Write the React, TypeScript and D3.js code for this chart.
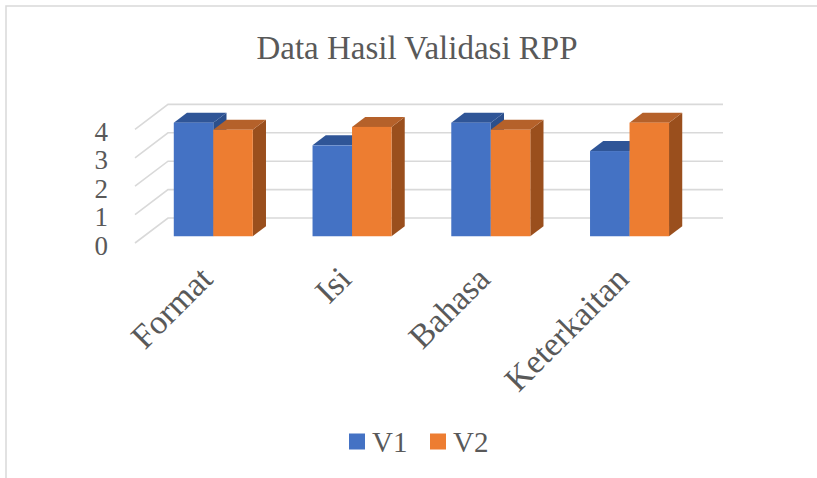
import React, { useEffect, useRef } from 'react';
import * as d3 from 'd3';

const categories = ['Format', 'Isi', 'Bahasa', 'Keterkaitan'];
const seriesNames = ['V1', 'V2'];
const v1Values = [4, 3.2, 4, 3];
const v2Values = [3.75, 3.85, 3.75, 4];
const yTicks = [0, 1, 2, 3, 4];

const App = () => {
    const svgRef = useRef<SVGSVGElement>(null);

    useEffect(() => {
        const width = 817;
        const height = 478;
        const font = '"Liberation Serif", "Times New Roman", serif';
        const textColor = '#595959';
        const gridColor = '#d9d9d9';

        // oblique "3D" projection: depth vector for the whole floor
        const depth = { dx: 33, dy: -25 };
        const barFront = 0.27;
        const barBack = 0.67;

        const colors = {
            V1: { front: '#4472c4', top: '#2f5597', side: '#2b4f8c' },
            V2: { front: '#ed7d31', top: '#b5612a', side: '#9a4f1d' }
        };

        const svg = d3.select(svgRef.current);
        svg.selectAll('*').remove();
        svg.attr('width', width).attr('height', height);

        // chart frame
        svg.append('rect')
            .attr('x', 6)
            .attr('y', 6)
            .attr('width', 1000)
            .attr('height', 800)
            .attr('fill', '#fff')
            .attr('stroke', gridColor)
            .attr('stroke-width', 1.5);

        // title
        svg.append('text')
            .attr('x', 417)
            .attr('y', 59)
            .attr('text-anchor', 'middle')
            .style('font-family', font)
            .style('font-size', '33px')
            .style('fill', textColor)
            .text('Data Hasil Validasi RPP');

        const xScale = d3.scaleBand()
            .domain(categories)
            .range([135, 690]);

        const yScale = d3.scaleLinear()
            .domain([0, 4])
            .range([243, 129.4]);

        const inner = d3.scaleBand()
            .domain(seriesNames)
            .range([0, 79]);

        // gridlines: side wall diagonal + back wall horizontal
        const grid = svg.append('g');
        yTicks.forEach(t => {
            const yf = yScale(t);
            const xf = xScale.range()[0];
            const xEnd = xScale.range()[1] + depth.dx;
            grid.append('polyline')
                .attr('points', `${xf},${yf} ${xf + depth.dx},${yf + depth.dy} ${xEnd},${yf + depth.dy}`)
                .attr('fill', 'none')
                .attr('stroke', gridColor)
                .attr('stroke-width', 1.6);
        });

        // y axis labels
        svg.append('g')
            .selectAll('text')
            .data(yTicks)
            .join('text')
            .attr('x', 108)
            .attr('y', d => yScale(d) + 11.5)
            .attr('text-anchor', 'end')
            .style('font-family', font)
            .style('font-size', '27px')
            .style('fill', textColor)
            .text(d => d);

        // bars
        const bars = svg.append('g');
        const ox = depth.dx * barFront;
        const oy = depth.dy * barFront;
        const bdx = depth.dx * (barBack - barFront);
        const bdy = depth.dy * (barBack - barFront);
        const groupOffset = (xScale.bandwidth() - 79) / 2;

        categories.forEach((cat, i) => {
            [v1Values[i], v2Values[i]].forEach((value, s) => {
                const name = seriesNames[s];
                const c = colors[name];
                const x0 = xScale(cat) + groupOffset + inner(name) + ox;
                const x1 = x0 + inner.bandwidth();
                const y0 = yScale(0) + oy;
                const y1 = yScale(value) + oy;

                // side face
                bars.append('polygon')
                    .attr('points', `${x1},${y0} ${x1 + bdx},${y0 + bdy} ${x1 + bdx},${y1 + bdy} ${x1},${y1}`)
                    .attr('fill', c.side);
                // top face
                bars.append('polygon')
                    .attr('points', `${x0},${y1} ${x1},${y1} ${x1 + bdx},${y1 + bdy} ${x0 + bdx},${y1 + bdy}`)
                    .attr('fill', c.top);
                // front face
                bars.append('rect')
                    .attr('x', x0)
                    .attr('y', y1)
                    .attr('width', x1 - x0)
                    .attr('height', y0 - y1)
                    .attr('fill', c.front);
            });
        });

        // category labels, rotated
        svg.append('g')
            .selectAll('text')
            .data(categories)
            .join('text')
            .attr('transform', d => `translate(${xScale(d) + xScale.bandwidth() / 2 + 10}, 281) rotate(-45)`)
            .attr('text-anchor', 'end')
            .style('font-family', font)
            .style('font-size', '34px')
            .style('fill', textColor)
            .text(d => d);

        // legend
        const legend = svg.append('g');
        const legendX = d3.scaleOrdinal<string, number>()
            .domain(seriesNames)
            .range([349, 430]);
        seriesNames.forEach(name => {
            legend.append('rect')
                .attr('x', legendX(name))
                .attr('y', 433.5)
                .attr('width', 16)
                .attr('height', 16)
                .attr('fill', colors[name].front);
            legend.append('text')
                .attr('x', legendX(name) + 23)
                .attr('y', 451.5)
                .style('font-family', font)
                .style('font-size', '29px')
                .style('fill', textColor)
                .text(name);
        });
    }, []);

    return (
        <div style={{ position: 'absolute', left: 0, top: 0, width: 817, height: 478, overflow: 'hidden' }}>
            <svg ref={svgRef} style={{ display: 'block' }}></svg>
        </div>
    );
};

export default App;
